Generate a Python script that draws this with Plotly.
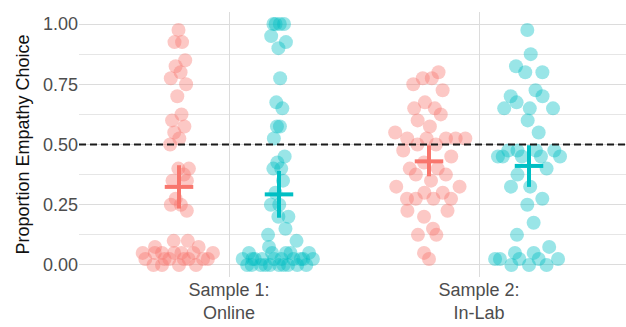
import numpy as np
import plotly.graph_objects as go

# ---------------- data ----------------
categories = ["Sample 1:<br>Online", "Sample 2:<br>In-Lab"]
groups = ["Group A", "Group B"]

s1_red = [0.975, 0.925, 0.925, 0.85, 0.825, 0.8, 0.775, 0.75, 0.7, 0.625, 0.6, 0.575,
          0.55, 0.525, 0.5,
          0.4, 0.4, 0.375, 0.35, 0.35, 0.275, 0.25, 0.25, 0.225,
          0.1, 0.1, 0.075, 0.075,
          0.05, 0.05, 0.05, 0.05, 0.05, 0.05, 0.05,
          0.025, 0.025, 0.025, 0.025, 0.025, 0.025, 0.025,
          0.0, 0.0, 0.0, 0.0]
s1_teal = [1.0, 1.0, 1.0, 1.0, 0.95, 0.925, 0.9, 0.775, 0.675, 0.65, 0.575, 0.575, 0.525,
           0.45, 0.425, 0.4, 0.4, 0.35, 0.3, 0.25, 0.25, 0.2, 0.2,
           0.15, 0.125, 0.1, 0.075,
           0.05, 0.05, 0.05, 0.05, 0.05,
           0.025, 0.025, 0.025, 0.025, 0.025, 0.025, 0.025, 0.025, 0.025, 0.025,
           0.0, 0.0, 0.0, 0.0, 0.0, 0.0, 0.0, 0.0, 0.0, 0.0]
s2_red = [0.8, 0.775, 0.775, 0.75, 0.725, 0.675, 0.65, 0.65, 0.625, 0.6, 0.575, 0.55,
          0.525, 0.525, 0.525, 0.525, 0.525, 0.5, 0.5, 0.475, 0.45, 0.425,
          0.4, 0.4, 0.375, 0.375, 0.35, 0.325, 0.325, 0.3, 0.3,
          0.275, 0.275, 0.275, 0.275, 0.225, 0.225, 0.2, 0.15, 0.125, 0.125, 0.05, 0.025]
s2_teal = [0.975, 0.875, 0.825, 0.8, 0.8, 0.725, 0.7, 0.7, 0.675, 0.65, 0.65, 0.65, 0.6, 0.55,
           0.475, 0.475, 0.475, 0.475, 0.45, 0.45, 0.45, 0.45, 0.45,
           0.4, 0.375, 0.325, 0.325, 0.275, 0.25, 0.175, 0.125, 0.075, 0.05, 0.05,
           0.025, 0.025, 0.025, 0.025, 0.025, 0.0, 0.0, 0.0]

# summary: mean and interval per category
mean_red = [0.324, 0.430]
lo_red = [0.234, 0.368]
hi_red = [0.414, 0.497]
mean_teal = [0.293, 0.411]
lo_teal = [0.196, 0.324]
hi_teal = [0.390, 0.497]

y_ticks = [0.0, 0.25, 0.5, 0.75, 1.0]
y_tick_labels = ["0.00", "0.25", "0.50", "0.75", "1.00"]
reference_line = 0.5

# ---------------- styling ----------------
RED = "#F8766D"
TEAL = "#00BFC4"
DODGE = 0.2
SWARM_W = 0.155
CROSS_HALF = 0.057
FONT = "Liberation Sans, Arial, sans-serif"


def vdc(n, base=2):
    out = []
    for i in range(1, n + 1):
        v, denom, k = 0.0, 1.0, i
        while k:
            denom *= base
            k, rem = divmod(k, base)
            v += rem / denom
        out.append(v)
    return np.array(out)


def quasirandom_offsets(y, width, adjust=0.5):
    y = np.asarray(y, dtype=float)
    n = len(y)
    sd = y.std(ddof=1)
    q75, q25 = np.percentile(y, [75, 25])
    lo = min(sd, (q75 - q25) / 1.34)
    if lo <= 0:
        lo = sd
    bw = 0.9 * lo * n ** (-0.2) * adjust
    d = np.exp(-0.5 * ((y[:, None] - y[None, :]) / bw) ** 2).sum(axis=1)
    d = d / d.max()
    order = np.argsort(y, kind="stable")
    ranks = np.empty(n, dtype=int)
    ranks[order] = np.arange(n)
    seq = vdc(n)[ranks] * 2 - 1
    return seq * d * width


fig = go.Figure()

series = [
    (s1_red, 1 - DODGE, RED),
    (s1_teal, 1 + DODGE, TEAL),
    (s2_red, 2 - DODGE, RED),
    (s2_teal, 2 + DODGE, TEAL),
]
for vals, center, col in series:
    off = quasirandom_offsets(vals, SWARM_W)
    fig.add_trace(go.Scatter(
        x=center + off, y=vals, mode="markers",
        marker=dict(size=14, color=col, opacity=0.4, line=dict(width=0)),
        hoverinfo="skip", showlegend=False))

for means, los, his, sign, col in [(mean_red, lo_red, hi_red, -1, RED),
                                   (mean_teal, lo_teal, hi_teal, 1, TEAL)]:
    for i in range(len(categories)):
        cx = (i + 1) + sign * DODGE
        fig.add_trace(go.Scatter(x=[cx, cx], y=[los[i], his[i]], mode="lines",
                                 line=dict(color=col, width=4), showlegend=False, hoverinfo="skip"))
        fig.add_trace(go.Scatter(x=[cx - CROSS_HALF, cx + CROSS_HALF], y=[means[i], means[i]],
                                 mode="lines", line=dict(color=col, width=4),
                                 showlegend=False, hoverinfo="skip"))

fig.add_shape(type="line", xref="paper", x0=0, x1=1, yref="y", y0=reference_line, y1=reference_line,
              line=dict(color="#1a1a1a", width=1.8, dash="7px,4px"))

fig.update_layout(
    width=626, height=327,
    margin=dict(l=79, r=0, t=12, b=50),
    paper_bgcolor="white", plot_bgcolor="white",
    font=dict(family=FONT, size=18, color="#4D4D4D"),
    showlegend=False,
)
fig.update_xaxes(
    range=[0.4, 2.588], tickvals=[1, 2], ticktext=categories,
    showgrid=True, gridcolor="#DCDCDC", gridwidth=1.2,
    zeroline=False, showline=False, ticks="",
    tickfont=dict(size=18, color="#4D4D4D"),
)
fig.update_yaxes(
    range=[-0.05, 1.05], tickvals=y_ticks, ticktext=y_tick_labels,
    showgrid=True, gridcolor="#DCDCDC", gridwidth=1.2,
    minor=dict(dtick=0.125, showgrid=True, gridcolor="#E6E6E6", gridwidth=1),
    zeroline=False, showline=False, ticks="",
    tickfont=dict(size=18, color="#4D4D4D"),
    title=dict(text="Proportion Empathy Choice", font=dict(size=18, color="#111111"), standoff=8),
)

fig.write_html("out.html")
